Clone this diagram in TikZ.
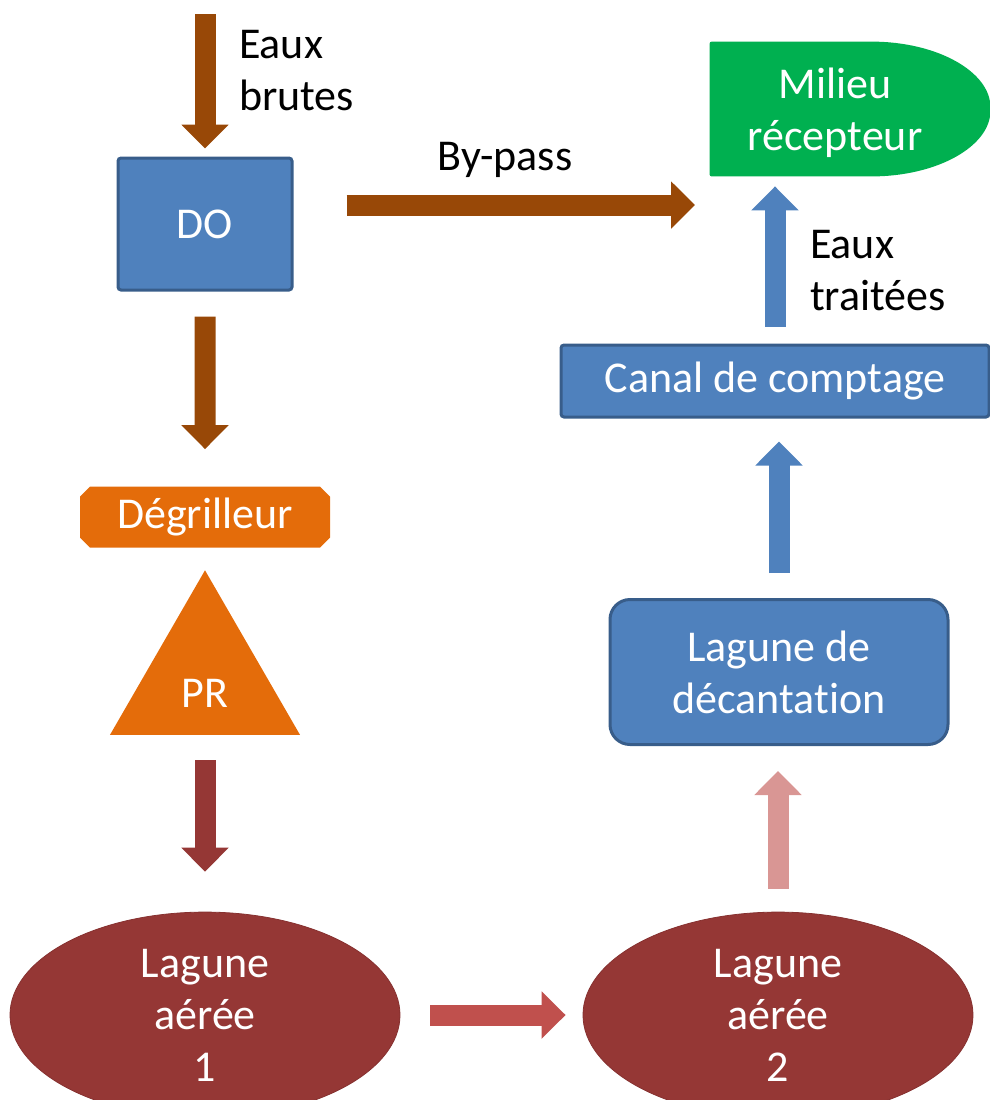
\documentclass[tikz,border=0pt]{standalone}
\usepackage{fontspec}
\setmainfont[Ligatures=CommonOff]{Carlito}
\usepackage{xcolor}
\usetikzlibrary{arrows.meta, positioning, calc, shapes.geometric, shapes.misc, backgrounds}

\definecolor{brun}{HTML}{984807}
\definecolor{bleu}{HTML}{4F81BD}
\definecolor{bleufonce}{HTML}{385D8A}
\definecolor{orange}{HTML}{E46C0A}
\definecolor{bordeaux}{HTML}{953735}
\definecolor{rouge}{HTML}{C0504D}
\definecolor{rose}{HTML}{D99694}
\definecolor{vert}{HTML}{00B050}

\begin{document}
\begin{tikzpicture}[
    x=0.5pt, y=-0.5pt,
    every node/.style={font=\fontsize{22}{26}\selectfont, align=center},
    bloc/.style={rectangle, draw=bleufonce, line width=1.5pt, fill=bleu, text=white, rounded corners=1.5pt},
    lagune/.style={ellipse, fill=bordeaux, draw=bordeaux!90!black, text=white, minimum width=195pt, minimum height=87pt},
    etiq/.style={text=black, align=left},
    fleche/.style={line width=10.5pt, -{Triangle[length=12pt, width=23pt]}},
]

\useasboundingbox (0,0) rectangle (990,1100);

% ouvrages
\node[bloc, minimum width=87pt, minimum height=66pt] (do) at (205,224) {DO};
\node[chamfered rectangle, chamfered rectangle xsep=2.5pt, chamfered rectangle ysep=2.5pt,
      fill=orange, text=white, minimum width=125pt, minimum height=30.5pt, inner sep=0pt] (degrilleur) at (205,517) {Dégrilleur};
\node[regular polygon, regular polygon sides=3, fill=orange, minimum size=109.7pt, inner sep=0pt] (pr) at (205,680) {};
\node[text=white] (prtxt) at (205,693) {PR};
\node[lagune] (lag1) at (205,1015) {Lagune\\aérée\\1};
\node[lagune] (lag2) at (778,1015) {Lagune\\aérée\\2};
\node[bloc, rounded corners=10pt, minimum width=169pt, minimum height=72.5pt] (decant) at (779,672) {Lagune de\\décantation};
\node[bloc, minimum width=214pt, minimum height=36pt] (canal) at (775,381) {Canal de comptage};
\node[text=white, minimum width=125pt, minimum height=67pt] (milieu) at (835,113) {Milieu\\récepteur};

\begin{scope}[on background layer]
\fill[vert, rounded corners=1pt] ($(milieu.south west)+(0,-4)$) -- ($(milieu.north west)+(0,-4)$) -- ($(milieu.north west)+(160,-4)$)
    .. controls ($(milieu.north west)+(228,-4)$) and ($(milieu.east)+(30,-41)$) .. ($(milieu.east)+(30,-4)$)
    .. controls ($(milieu.east)+(30,33)$) and ($(milieu.south west)+(228,-4)$) .. ($(milieu.south west)+(160,-4)$) -- cycle;
\end{scope}

% textes
\node[etiq, anchor=west] (brutes) at (232,71) {Eaux\\brutes};
\node[etiq] (bypass) at (505,160) {By-pass};
\node[etiq, anchor=west] (traitees) at (803,271) {Eaux\\traitées};

% fleches
\coordinate (entree) at (205,14);
\coordinate (sortiebp) at (695,205);
\draw[fleche, brun, shorten >=4pt] (entree) -- (do);
\draw[fleche, brun, shorten <=26.5pt] ($(do.east)+(0,-19)$) -- (sortiebp);
\draw[fleche, brun, shorten <=12.5pt, shorten >=18.5pt] (do) -- (degrilleur);
\draw[fleche, bordeaux, shorten <=12.5pt, shorten >=20pt] (pr.south) -- (lag1.north);
\draw[fleche, rouge, shorten <=15pt, shorten >=8.5pt] (lag1) -- (lag2);
\draw[fleche, rose, shorten <=11.5pt, shorten >=12.5pt] (lag2.north) -- (lag2.north |- decant.south);
\draw[fleche, bleu, shorten <=12.5pt, shorten >=11.5pt] (decant.north) -- (decant.north |- canal.south);
\draw[fleche, bleu, shorten <=8.5pt, shorten >=3pt] (canal.north) -- (canal.north |- milieu.south);

\end{tikzpicture}
\end{document}
